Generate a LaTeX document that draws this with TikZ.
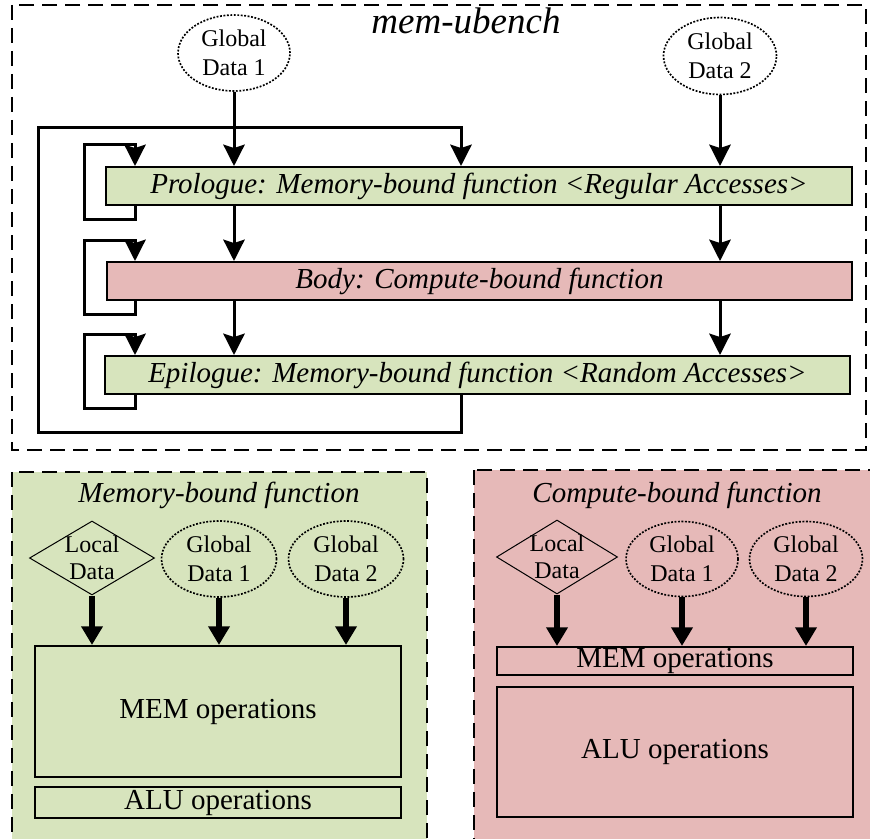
\documentclass[tikz,border=0pt]{standalone}
\usepackage{fontspec}
\setmainfont{Liberation Serif}
\usetikzlibrary{arrows.meta,shapes.geometric,calc}
\definecolor{memgreen}{HTML}{D7E4BD}
\definecolor{cmppink}{HTML}{E6B9B8}
\begin{document}
\begin{tikzpicture}[x=0.75pt,y=-0.75pt,
  frame/.style={draw, line width=1.5pt, dash pattern=on 11.25pt off 6pt},
  bar/.style={draw, line width=1.5pt, rectangle, inner sep=0pt, minimum height=28.5pt,
    font=\fontsize{21.75}{26}\selectfont\itshape},
  gdata/.style={ellipse, draw, line width=1.25pt, dash pattern=on 1.4pt off 1.2pt,
    inner sep=0pt, align=center, font=\fontsize{18}{21.5}\selectfont},
  ldata/.style={diamond, draw, line width=0.75pt, inner sep=0pt},
  ldtext/.style={align=center, font=\fontsize{18}{20.5}\selectfont},
  ptitle/.style={anchor=base, font=\fontsize{21.75}{26}\selectfont\itshape},
  opbox/.style={draw, line width=1.5pt, rectangle, inner sep=0pt,
    font=\fontsize{21.75}{26}\selectfont},
  arr/.style={line width=2.25pt, -{Stealth[length=16pt,width=16pt,inset=2.5pt]}},
  tarr/.style={line width=4.5pt, -{Triangle[length=14pt,width=15.5pt]}}
]
\useasboundingbox (0,0) rectangle (870,838);

% ---------- top frame ----------
\draw[frame] (12,5) rectangle (866,450);
\node[anchor=base, font=\fontsize{27.75}{32}\selectfont\itshape] (title) at (466,34) {mem-ubench};

\node[gdata, minimum width=84pt, minimum height=57pt] (g1) at (234,53) {Global\\Data 1};
\node[gdata, minimum width=84.75pt, minimum height=57.75pt] (g2) at (720,56) {Global\\Data 2};

\node[bar, fill=memgreen, minimum width=559.5pt] (pro) at (479,186)
  {Prologue: Memory-bound function <Regular Accesses>};
\node[bar, fill=cmppink, minimum width=558.75pt] (body) at (479.5,281)
  {Body: Compute-bound function};
\node[bar, fill=memgreen, minimum width=558.75pt] (epi) at (477.5,375)
  {Epilogue: Memory-bound function <Random Accesses>};

\coordinate (lpx) at (461,0);
\coordinate (slx) at (135,0);
\coordinate (sll) at (84,0);
\coordinate (obl) at (38,432);
\coordinate (otl) at (38,128);

\draw[arr] (g1.south) -- (g1.south |- pro.north);
\draw[arr] (g2.south) -- (g2.south |- pro.north);
\draw[arr] (pro.south -| g1.south) -- (body.north -| g1.south);
\draw[arr] (pro.south -| g2.south) -- (body.north -| g2.south);
\draw[arr] (body.south -| g1.south) -- (epi.north -| g1.south);
\draw[arr] (body.south -| g2.south) -- (epi.north -| g2.south);

\draw[arr] (epi.south -| lpx) |- (obl) -- (otl) -| (pro.north -| lpx);

\foreach \b in {pro,body,epi}{
  \draw[arr] (\b.south -| slx) -- ++(0,13) -| ($(\b.north -| sll)+(0,-21)$)
    -- ($(\b.north -| slx)+(0,-21)$) -- (\b.north -| slx);
}

% ---------- memory-bound panel ----------
\draw[frame, fill=memgreen] (12,472) rectangle (427,850);
\node[ptitle] (mt) at (219,502) {Memory-bound function};
\node[ldata, minimum width=93.75pt, minimum height=55.5pt,
  label={[ldtext]center:{Local\\Data}}] (ldm) at (92,558) {};
\node[gdata, minimum width=86.25pt, minimum height=57pt] (g1m) at (219,559) {Global\\Data 1};
\node[gdata, minimum width=86.25pt, minimum height=57pt] (g2m) at (346,559) {Global\\Data 2};
\node[opbox, minimum width=274.5pt, minimum height=98.25pt] (memm) at (218,711.5) {MEM operations};
\node[opbox, minimum width=274.5pt, minimum height=23.25pt] (alum) at (218,802.5) {ALU operations};
\draw[tarr] (ldm.south) -- (ldm.south |- memm.north);
\draw[tarr] (g1m.south) -- (g1m.south |- memm.north);
\draw[tarr] (g2m.south) -- (g2m.south |- memm.north);

% ---------- compute-bound panel ----------
\draw[frame, fill=cmppink] (474,470) rectangle (885,850);
\node[ptitle] (ct) at (677,502) {Compute-bound function};
\node[ldata, minimum width=90.75pt, minimum height=55.5pt,
  label={[ldtext]center:{Local\\Data}}] (ldc) at (557,557) {};
\node[gdata, minimum width=84pt, minimum height=56.25pt] (g1c) at (682,559) {Global\\Data 1};
\node[gdata, minimum width=84.75pt, minimum height=56.25pt] (g2c) at (806,559) {Global\\Data 2};
\node[opbox, minimum width=267pt, minimum height=21pt] (memc) at (675,661) {MEM operations};
\node[opbox, minimum width=267pt, minimum height=97.5pt] (aluc) at (675,752) {ALU operations};
\draw[tarr] (ldc.south) -- (ldc.south |- memc.north);
\draw[tarr] (g1c.south) -- (g1c.south |- memc.north);
\draw[tarr] (g2c.south) -- (g2c.south |- memc.north);
\end{tikzpicture}
\end{document}
